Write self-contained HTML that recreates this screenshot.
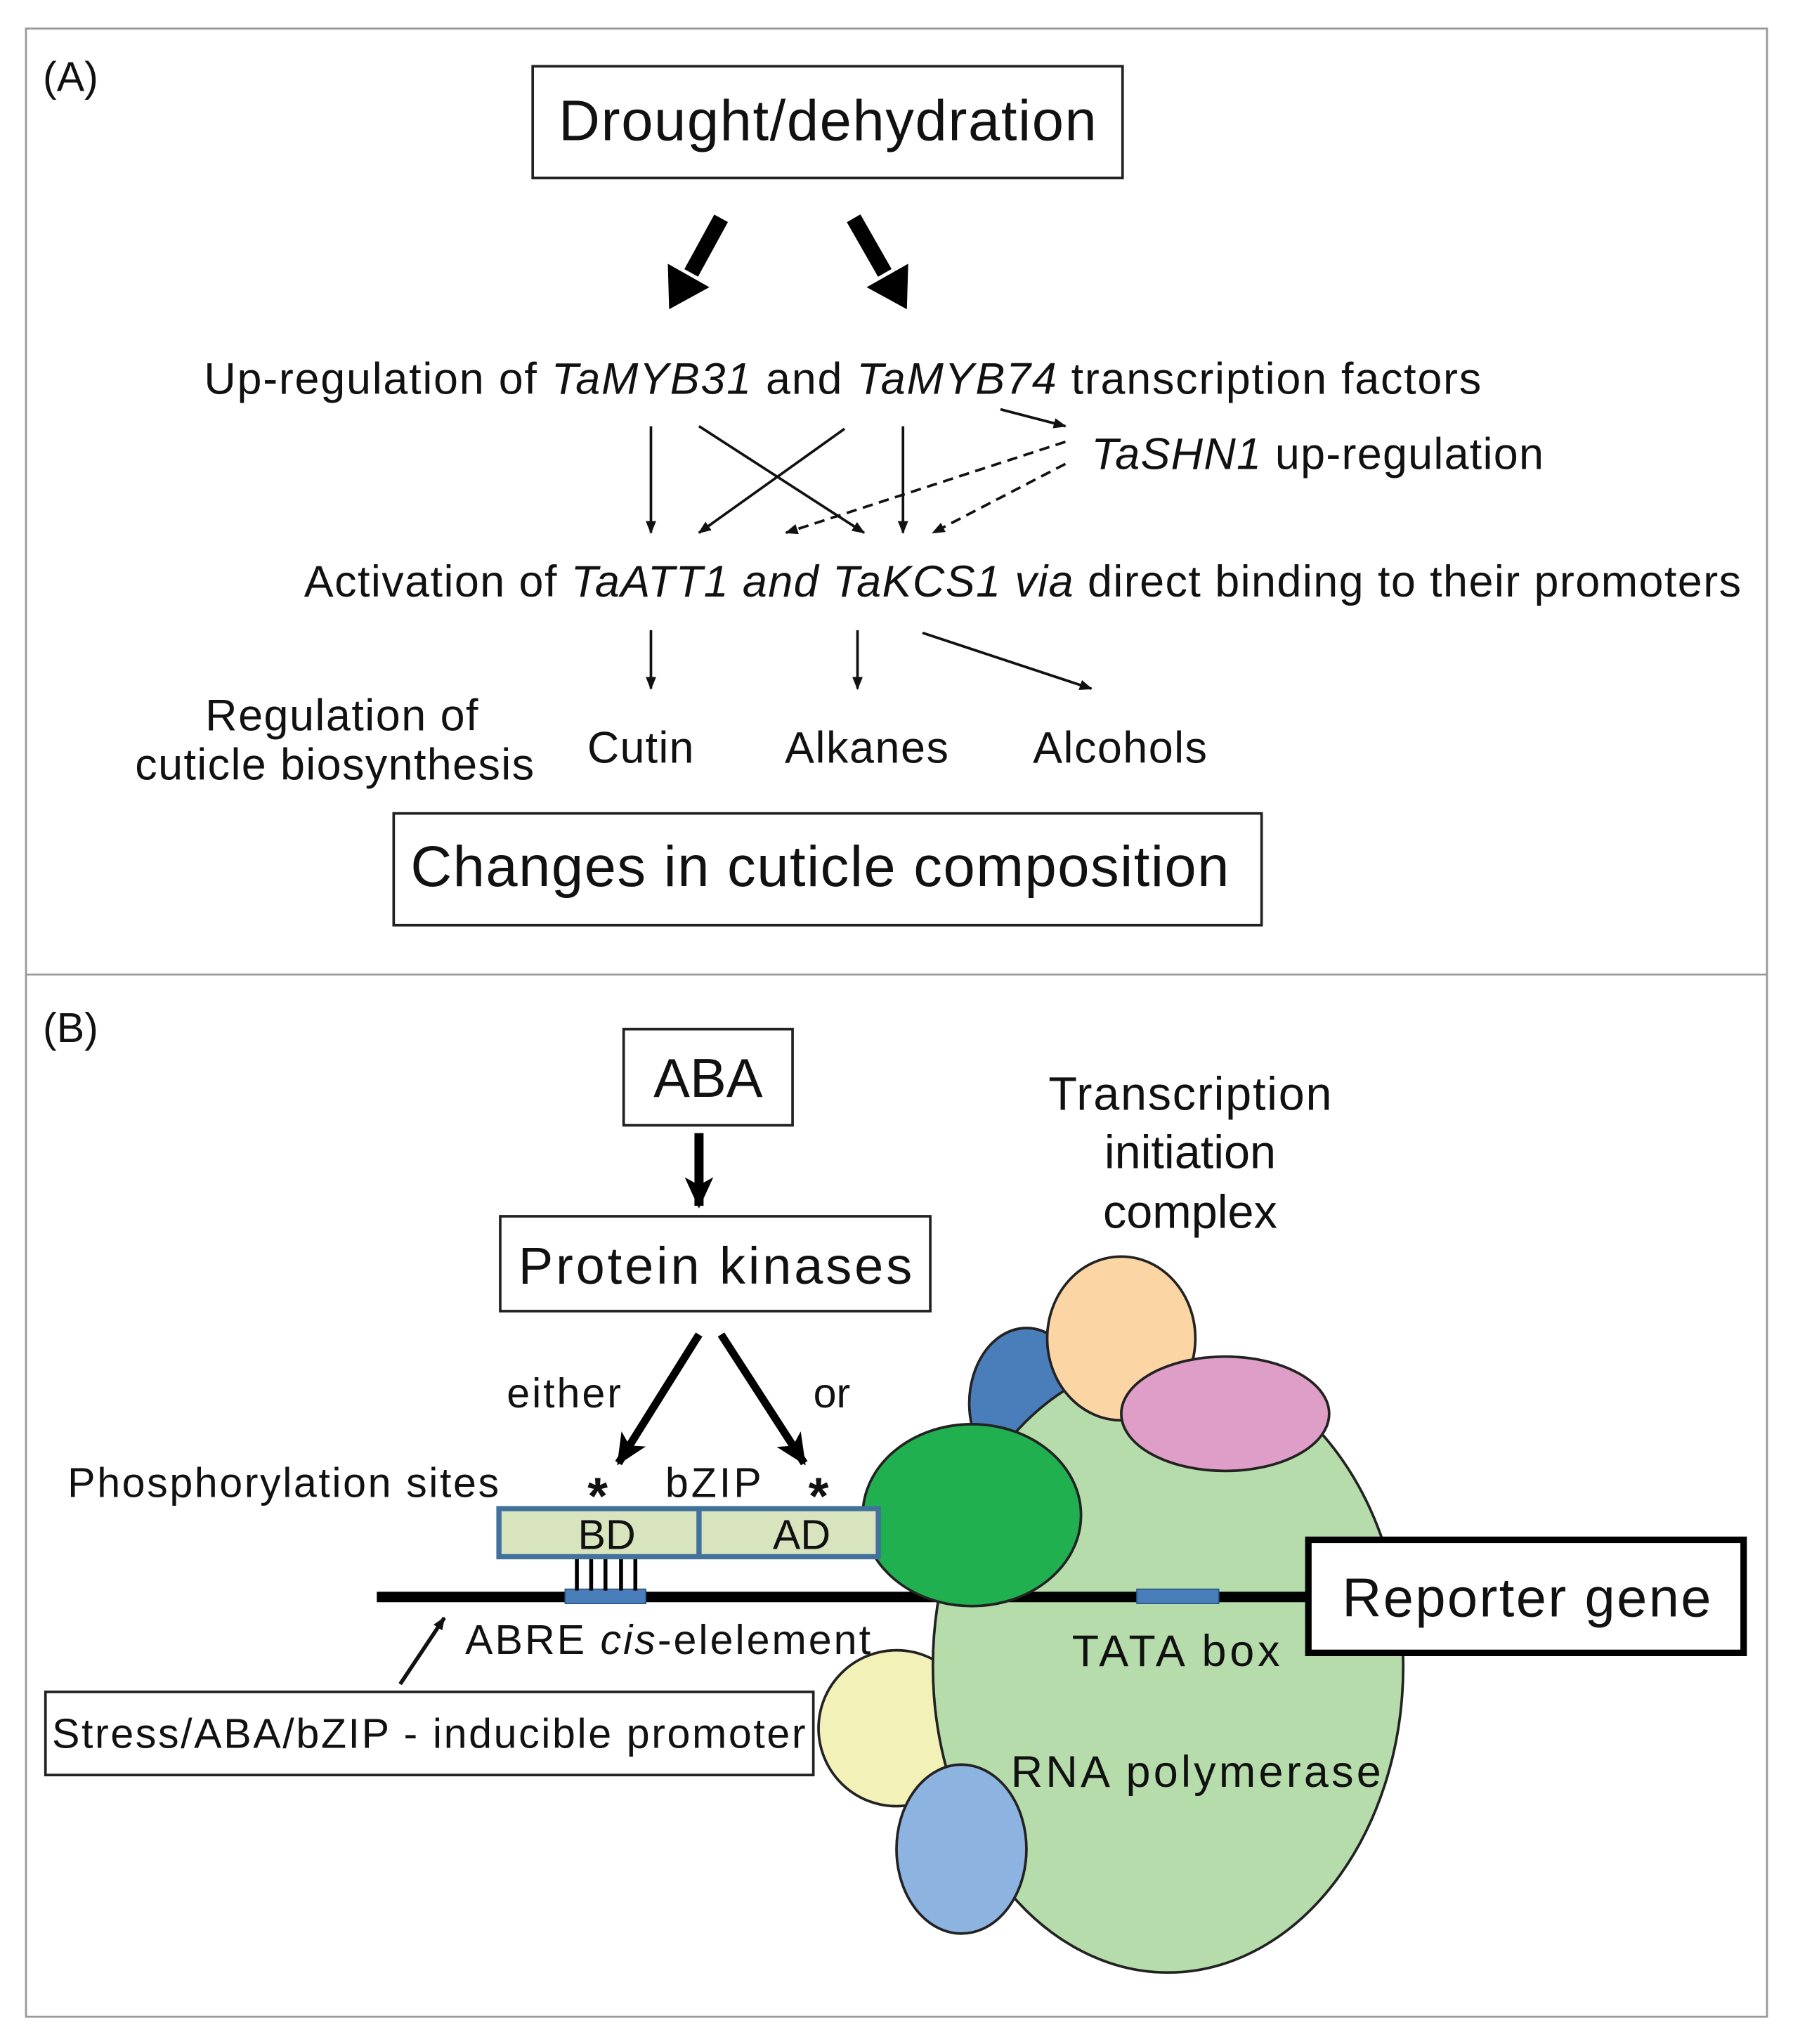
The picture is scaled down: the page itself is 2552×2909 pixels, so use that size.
<!DOCTYPE html>
<html><head><meta charset="utf-8"><style>
html,body{margin:0;padding:0;background:#fff;}
svg{display:block;}
text{font-family:"Liberation Sans",sans-serif;fill:#111;}
</style></head><body>
<svg width="2552" height="2909" viewBox="0 0 1380 1573" preserveAspectRatio="none">
<defs>
<marker id="a" markerWidth="10" markerHeight="10" refX="9" refY="5" orient="auto" markerUnits="userSpaceOnUse"><path d="M0,1 L10,5 L0,9 z" fill="#111"/></marker>
<marker id="c" markerWidth="30" markerHeight="30" refX="22" refY="15" orient="auto" markerUnits="userSpaceOnUse"><path d="M0,4 L24,15 L0,26 L6,15 z" fill="#000"/></marker>
</defs>
<rect x="20" y="22" width="1340" height="1530" fill="none" stroke="#999" stroke-width="1.5"/>
<line x1="20" y1="750" x2="1360" y2="750" stroke="#999" stroke-width="1.5"/>
<text x="33" y="70" font-size="32">(A)</text>
<rect x="410" y="51" width="454" height="86" fill="#fff" stroke="#222" stroke-width="2"/>
<text x="430" y="108" font-size="44" textLength="414">Drought/dehydration</text>
<line x1="555" y1="168" x2="532" y2="210" stroke="#000" stroke-width="12"/>
<polygon points="515,238 546,221 514,203" fill="#000"/>
<line x1="657" y1="168" x2="681" y2="210" stroke="#000" stroke-width="12"/>
<polygon points="698,238 699,203 667,221" fill="#000"/>
<text x="157" y="303" font-size="34" fill="#333" textLength="983">Up-regulation of <tspan font-style="italic">TaMYB31</tspan> and <tspan font-style="italic">TaMYB74</tspan> transcription factors</text>
<g stroke="#111" stroke-width="2" marker-end="url(#a)">
<line x1="501" y1="328" x2="501" y2="410"/>
<line x1="538" y1="328" x2="665" y2="410"/>
<line x1="650" y1="330" x2="538" y2="410"/>
<line x1="695" y1="328" x2="695" y2="410"/>
<line x1="770" y1="315" x2="820" y2="328"/>
<line x1="820" y1="340" x2="605" y2="410" stroke-dasharray="8,5"/>
<line x1="820" y1="357" x2="718" y2="410" stroke-dasharray="8,5"/>
<line x1="501" y1="485" x2="501" y2="530"/>
<line x1="660" y1="485" x2="660" y2="530"/>
<line x1="710" y1="487" x2="840" y2="530"/>
</g>
<text x="840" y="361" font-size="34" textLength="348"><tspan font-style="italic">TaSHN1</tspan> up-regulation</text>
<text x="234" y="459" font-size="34" textLength="1106">Activation of <tspan font-style="italic">TaATT1 and TaKCS1 via</tspan> direct binding to their promoters</text>
<text x="158" y="562" font-size="34" textLength="210">Regulation of</text>
<text x="104" y="600" font-size="34" textLength="307">cuticle biosynthesis</text>
<text x="452" y="587" font-size="34" textLength="82">Cutin</text>
<text x="604" y="587" font-size="34" textLength="126">Alkanes</text>
<text x="795" y="587" font-size="34" textLength="134">Alcohols</text>
<rect x="303" y="626" width="668" height="86" fill="#fff" stroke="#222" stroke-width="2"/>
<text x="316" y="682" font-size="44" textLength="630">Changes in cuticle composition</text>

<text x="33" y="802" font-size="32">(B)</text>
<rect x="480" y="792" width="130" height="74" fill="#fff" stroke="#222" stroke-width="2"/>
<text x="545" y="844" font-size="42" text-anchor="middle">ABA</text>
<line x1="538" y1="872" x2="538" y2="928" stroke="#000" stroke-width="7" marker-end="url(#c)"/>
<rect x="385" y="936" width="331" height="73" fill="#fff" stroke="#222" stroke-width="2"/>
<text x="399" y="988" font-size="40" textLength="303">Protein kinases</text>
<line x1="538" y1="1027" x2="476" y2="1126" stroke="#000" stroke-width="6" marker-end="url(#c)"/>
<line x1="555" y1="1027" x2="619" y2="1126" stroke="#000" stroke-width="6" marker-end="url(#c)"/>
<text x="390" y="1083" font-size="32" textLength="88">either</text>
<text x="626" y="1083" font-size="32">or</text>
<text x="52" y="1152" font-size="32" textLength="332">Phosphorylation sites</text>
<text x="460" y="1165" font-size="40" text-anchor="middle" font-weight="bold">*</text>
<text x="512" y="1152" font-size="32" textLength="74">bZIP</text>
<text x="630" y="1165" font-size="40" text-anchor="middle" font-weight="bold">*</text>

<ellipse cx="790" cy="1080" rx="44" ry="58" fill="#4a7ebb" stroke="#222" stroke-width="2"/>
<ellipse cx="690" cy="1330" rx="60" ry="60" fill="#f2f2b8" stroke="#222" stroke-width="2"/>
<ellipse cx="899" cy="1282" rx="181" ry="236" fill="#b6dcab" stroke="#222" stroke-width="2"/>
<ellipse cx="863" cy="1030" rx="57" ry="63" fill="#fcd5a5" stroke="#222" stroke-width="2"/>
<ellipse cx="943" cy="1088" rx="80" ry="44" fill="#df9ec8" stroke="#222" stroke-width="2"/>
<ellipse cx="740" cy="1423" rx="50" ry="65" fill="#8db3e0" stroke="#222" stroke-width="2"/>

<line x1="290" y1="1229" x2="1010" y2="1229" stroke="#000" stroke-width="8"/>
<rect x="435" y="1223" width="62" height="11" fill="#4a7ebb" stroke="#2e5a8a" stroke-width="1"/>
<rect x="875" y="1223" width="63" height="11" fill="#4a7ebb" stroke="#2e5a8a" stroke-width="1"/>
<g stroke="#000" stroke-width="3">
<line x1="444" y1="1198" x2="444" y2="1224"/><line x1="455" y1="1198" x2="455" y2="1224"/>
<line x1="466" y1="1198" x2="466" y2="1224"/><line x1="478" y1="1198" x2="478" y2="1224"/>
<line x1="489" y1="1198" x2="489" y2="1224"/>
</g>
<ellipse cx="748" cy="1166" rx="84" ry="70" fill="#20b050" stroke="#222" stroke-width="2"/>
<rect x="384" y="1161" width="292" height="37" fill="#d7e4bd" stroke="#41719c" stroke-width="4"/>
<line x1="538" y1="1161" x2="538" y2="1198" stroke="#41719c" stroke-width="4"/>
<text x="467" y="1192" font-size="32" text-anchor="middle">BD</text>
<text x="617" y="1192" font-size="32" text-anchor="middle">AD</text>

<rect x="1007" y="1185" width="335" height="87" fill="#fff" stroke="#000" stroke-width="5"/>
<text x="1033" y="1244" font-size="42" textLength="284">Reporter gene</text>
<text x="825" y="1282" font-size="34" textLength="160">TATA box</text>
<text x="358" y="1273" font-size="32" textLength="312">ABRE <tspan font-style="italic">cis</tspan>-elelement</text>
<line x1="308" y1="1296" x2="342" y2="1245" stroke="#111" stroke-width="3" marker-end="url(#a)"/>
<rect x="35" y="1302" width="591" height="64" fill="#fff" stroke="#222" stroke-width="2"/>
<text x="40" y="1345" font-size="32" textLength="580">Stress/ABA/bZIP - inducible promoter</text>
<text x="778" y="1375" font-size="34" textLength="285">RNA polymerase</text>
<text x="807" y="854" font-size="36" textLength="218">Transcription</text>
<text x="916" y="899" font-size="36" text-anchor="middle">initiation</text>
<text x="916" y="945" font-size="36" text-anchor="middle">complex</text>
</svg>
</body></html>
